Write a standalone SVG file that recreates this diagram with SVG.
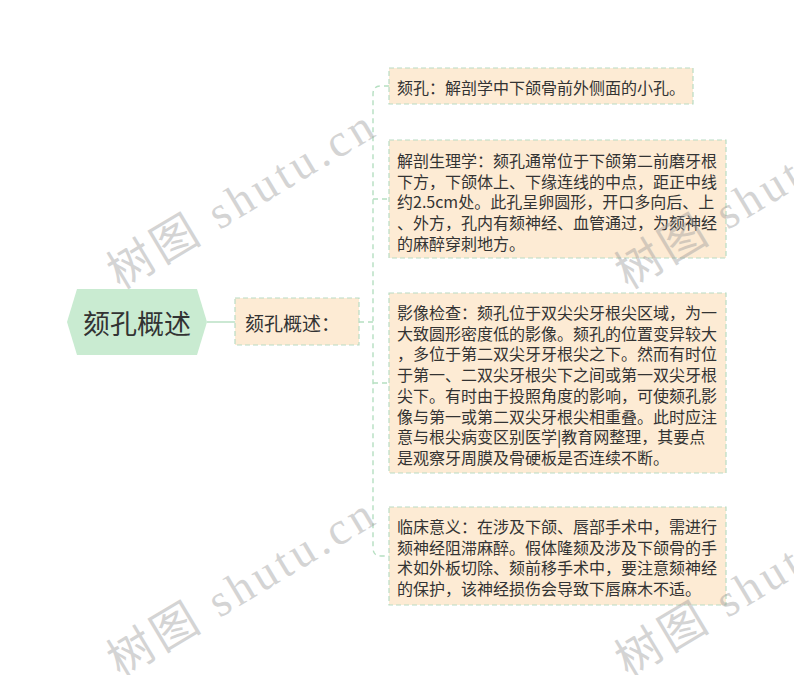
<svg xmlns="http://www.w3.org/2000/svg" width="794" height="675" viewBox="0 0 794 675">
<style>
.box{fill:#fdebd4;stroke:#b9dcc3;stroke-width:1.2;stroke-dasharray:5 3}
.t{font-family:"Noto Sans CJK SC","Microsoft YaHei",sans-serif;font-size:16px;fill:#333;dominant-baseline:central}
.conn{fill:none;stroke:#b5dfc1;stroke-width:1.4}
.dash{stroke-dasharray:5 4}
.wm{font-family:"Liberation Serif","Noto Sans CJK SC",serif;font-size:46px;fill:#9a9a9a;opacity:0.42}
</style>
<rect width="794" height="675" fill="#ffffff"/>
<g id="connectors">
<line class="conn" x1="207" y1="322" x2="235" y2="322"/>
<line class="conn dash" x1="359" y1="322" x2="373" y2="322"/>
<path class="conn dash" d="M389,86 H381 Q373,86 373,94 V548 Q373,556 381,556 H389"/>
<line class="conn dash" x1="373" y1="199" x2="389" y2="199"/>
<line class="conn dash" x1="373" y1="383" x2="389" y2="383"/>
</g>
<g id="root">
<polygon points="67,322 77,289 197,289 207,322 197,355 77,355" fill="#c9ebd1"/>
<text x="137" y="322" text-anchor="middle" style="font-family:'Noto Sans CJK SC','Microsoft YaHei',sans-serif;font-size:27px;fill:#333;dominant-baseline:central">颏孔概述</text>
</g>
<g id="mid">
<rect class="box" x="235" y="298" width="124" height="47"/>
<text x="245" y="322" style="font-family:'Noto Sans CJK SC','Microsoft YaHei',sans-serif;font-size:19px;fill:#333;dominant-baseline:central">颏孔概述：</text>
</g>
<g id="n1">
<rect class="box" x="389" y="68" width="304" height="36"/>
<text class="t" x="397" y="87">颏孔：解剖学中下颌骨前外侧面的小孔。</text>
</g>
<g id="n2">
<rect class="box" x="389" y="140" width="337" height="118"/>
<text class="t" x="397" y="160">解剖生理学：颏孔通常位于下颌第二前磨牙根</text>
<text class="t" x="397" y="180.7">下方，下颌体上、下缘连线的中点，距正中线</text>
<text class="t" x="397" y="201.4">约2.5cm处。此孔呈卵圆形，开口多向后、上</text>
<text class="t" x="397" y="222.1">、外方，孔内有颏神经、血管通过，为颏神经</text>
<text class="t" x="397" y="242.8">的麻醉穿刺地方。</text>
</g>
<g id="n3">
<rect class="box" x="389" y="293" width="337" height="180"/>
<text class="t" x="397" y="312">影像检查：颏孔位于双尖尖牙根尖区域，为一</text>
<text class="t" x="397" y="332.7">大致圆形密度低的影像。颏孔的位置变异较大</text>
<text class="t" x="397" y="353.4">，多位于第二双尖牙牙根尖之下。然而有时位</text>
<text class="t" x="397" y="374.1">于第一、二双尖牙根尖下之间或第一双尖牙根</text>
<text class="t" x="397" y="394.8">尖下。有时由于投照角度的影响，可使颏孔影</text>
<text class="t" x="397" y="415.5">像与第一或第二双尖牙根尖相重叠。此时应注</text>
<text class="t" x="397" y="436.2">意与根尖病变区别医学|教育网整理，其要点</text>
<text class="t" x="397" y="456.9">是观察牙周膜及骨硬板是否连续不断。</text>
</g>
<g id="n4">
<rect class="box" x="389" y="507" width="337" height="98"/>
<text class="t" x="397" y="526">临床意义：在涉及下颌、唇部手术中，需进行</text>
<text class="t" x="397" y="546.7">颏神经阻滞麻醉。假体隆颏及涉及下颌骨的手</text>
<text class="t" x="397" y="567.4">术如外板切除、颏前移手术中，要注意颏神经</text>
<text class="t" x="397" y="588.1">的保护，该神经损伤会导致下唇麻木不适。</text>
</g>
<g id="watermark">
<text class="wm" transform="translate(120,290) rotate(-31)" textLength="300" lengthAdjust="spacing">树图 shutu.cn</text>
<text class="wm" transform="translate(628,290) rotate(-31)" textLength="300" lengthAdjust="spacing">树图 shutu.cn</text>
<text class="wm" transform="translate(120,678) rotate(-31)" textLength="300" lengthAdjust="spacing">树图 shutu.cn</text>
<text class="wm" transform="translate(628,678) rotate(-31)" textLength="300" lengthAdjust="spacing">树图 shutu.cn</text>
</g>
</svg>
